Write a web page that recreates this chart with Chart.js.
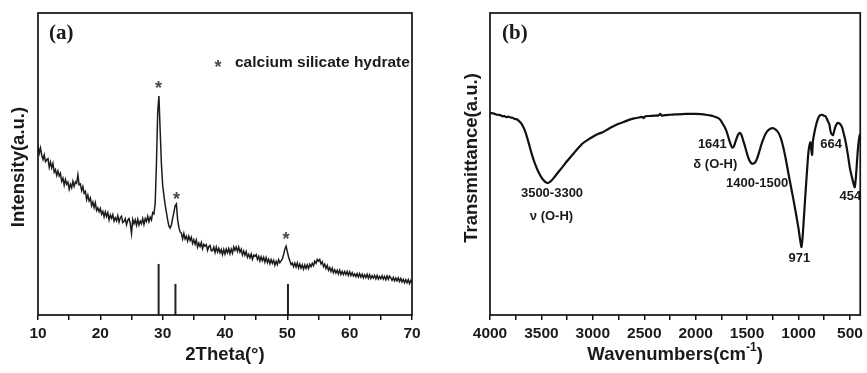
<!DOCTYPE html>
<html>
<head>
<meta charset="utf-8">
<script src="https://cdn.jsdelivr.net/npm/chart.js@4/dist/chart.umd.min.js"></script>
<style>
  html, body { margin: 0; padding: 0; background: #fff; }
  #wrap { position: relative; width: 867px; height: 373px; }
  #wrap > div { position: absolute; top: 0; height: 373px; }
  #boxA { left: 0; width: 430px; }
  #boxB { left: 430px; width: 437px; }
</style>
</head>
<body>
<div id="wrap">
  <div id="boxA"><canvas id="xrd"></canvas></div>
  <div id="boxB"><canvas id="ftir"></canvas></div>
</div>
<script>
// ---- (a) XRD pattern, sampled every 0.2 deg from 10 to 70 ----
const xrdStart = 10;
const xrdStep = 0.2;
const xrdIntensity = [
  56.1, 53.5, 55.3, 52.9, 51.5,  53.0, 50.8, 51.4, 51.8, 48.9,
  50.6, 48.7, 50.2, 47.3, 48.1,  46.2, 47.7, 46.0, 46.9, 44.3,
  45.3, 43.0, 44.9, 43.3, 44.0,  41.6, 43.3, 42.1, 44.3, 42.6,
  44.1, 43.6, 46.4, 43.1, 43.4,  41.2, 42.5, 40.3, 40.9, 38.2,
  39.7, 37.8, 38.7, 36.2, 37.4,  35.6, 37.2, 34.6, 35.5, 34.2,
  35.3, 33.4, 34.3, 32.5, 34.2,  32.6, 33.9, 31.5, 33.1, 32.0,
  33.2, 31.1, 32.2, 31.2, 32.9,  30.8, 32.2, 32.7, 30.6, 31.0,
  31.9, 29.9, 31.4, 31.9, 30.3,  27.0, 31.6, 30.2, 31.5, 29.7,
  31.7, 29.8, 31.1, 30.2, 31.9,  30.0, 31.9, 31.0, 32.7, 30.9,
  32.4, 31.5, 33.9, 33.5, 37.0,  50.0, 67.0, 72.5, 61.0, 50.0,
  43.0, 39.5, 36.5, 34.0, 31.5,  29.5, 28.8, 29.8, 32.0, 34.0,
  36.2, 36.8, 31.5, 29.0, 27.5,  27.1, 25.2, 27.0, 25.2, 26.1,
  24.5, 26.1, 24.7, 25.7, 23.7,  24.9, 23.4, 24.8, 22.5, 23.8,
  22.7, 24.0, 22.0, 23.4, 22.8,  23.3, 21.4, 22.6, 23.0, 21.3,
  21.3, 22.5, 20.7, 22.5, 20.9,  22.1, 20.6, 21.7, 20.0, 21.7,
  20.2, 21.8, 20.6, 22.0, 20.3,  21.8, 20.5, 22.5, 21.4, 22.5,
  21.1, 22.5, 20.8, 21.8, 19.9,  21.2, 19.8, 21.0, 19.1, 20.1,
  18.9, 20.2, 18.5, 19.8, 19.4,  20.0, 18.4, 19.4, 17.9, 19.3,
  18.0, 19.1, 17.5, 19.0, 17.4,  18.5, 17.0, 18.3, 17.1, 18.1,
  16.5, 17.8, 16.7, 18.3, 17.3,  17.9, 18.6, 20.0, 21.8, 22.8,
  21.0, 19.2, 18.0, 16.7, 17.2,  16.0, 17.2, 15.9, 17.2, 15.6,
  16.9, 15.5, 16.6, 15.2, 16.6,  15.4, 16.6, 15.4, 16.8, 16.0,
  17.1, 16.3, 17.8, 17.1, 18.4,  17.8, 18.4, 16.9, 17.6, 16.0,
  16.8, 15.4, 16.4, 14.8, 15.7,  14.4, 15.5, 14.0, 15.0, 13.9,
  14.8, 13.6, 14.8, 13.4, 14.4,  13.4, 14.4, 13.4, 14.4, 13.1,
  14.3, 13.1, 14.0, 12.9, 13.6,  12.7, 13.7, 12.6, 13.7, 12.6,
  13.5, 12.3, 13.3, 12.4, 13.5,  12.2, 13.3, 12.1, 13.0, 12.2,
  13.1, 12.0, 13.1, 11.9, 12.8,  12.0, 13.0, 11.9, 12.8, 11.7,
  12.9, 11.8, 12.9, 12.3, 11.5,  12.4, 11.3, 12.2, 11.3, 12.3,
  11.1, 12.1, 11.0, 11.8, 10.7,  11.7, 10.7, 11.7, 10.4, 11.4,
  10.6
];
// reference pattern sticks
const stickAngles = [29.35, 32.05, 50.1];
const stickHeights = [16.9, 10.3, 10.3];
// asterisks over the C-S-H peaks
const cshAngles = [29.35, 32.2, 49.8];
const cshMarkLevel = [76.5, 39.7, 26.5];
const xrdTicks = [10, 15, 20, 25, 30, 35, 40, 45, 50, 55, 60, 65, 70];

// ---- (b) FTIR spectrum ----
const wavenumbers = [
  4000, 3960, 3930, 3900, 3880, 3860, 3840, 3820, 3800, 3780, 3760, 3740, 3720, 3700,
  3680, 3660, 3640, 3620, 3600, 3580, 3560, 3540, 3520, 3500, 3480, 3460, 3440, 3420,
  3400, 3380, 3350, 3300, 3250, 3200, 3150, 3100, 3050, 3000, 2950, 2900, 2850, 2800,
  2750, 2700, 2650, 2600, 2550, 2520, 2505, 2490, 2450, 2400, 2360, 2345, 2330, 2300,
  2250, 2200, 2100, 2000, 1950, 1900, 1850, 1800, 1780, 1760, 1740, 1720, 1700, 1680,
  1660, 1645, 1630, 1615, 1600, 1585, 1570, 1555, 1540, 1520, 1500, 1480, 1460, 1440,
  1420, 1400, 1380, 1360, 1340, 1320, 1300, 1275, 1250, 1225, 1200, 1175, 1150, 1125,
  1100, 1075, 1050, 1025, 1000, 985, 971, 960, 950, 935, 920, 905, 895, 885,
  875, 868, 860, 845, 830, 815, 800, 785, 770, 755, 740, 725, 715, 700,
  690, 680, 664, 650, 635, 620, 605, 590, 575, 560, 540, 520, 500, 480,
  465, 454, 445, 435, 425, 415, 405, 400
];
const transmittance = [
  66.9, 66.7, 66.3, 66.2, 65.8, 65.9, 65.5, 65.7, 65.4, 65.3, 64.9, 64.8, 64.3, 63.6,
  62.5, 61.0, 58.9, 56.5, 54.0, 51.8, 49.9, 48.2, 46.8, 45.6, 44.7, 44.0, 43.7, 44.0,
  44.6, 45.4, 46.7, 48.8, 51.0, 53.0, 55.0, 56.8, 58.0, 59.0, 59.9, 60.6, 61.6, 62.5,
  63.3, 63.9, 64.6, 65.1, 65.4, 65.6, 65.2, 65.8, 65.9, 66.0, 66.1, 66.6, 66.0, 66.2,
  66.3, 66.4, 66.6, 66.6, 66.5, 66.3, 66.0, 65.5, 65.2, 64.6, 63.5, 62.3, 60.8, 58.6,
  56.5, 55.4, 55.7, 57.2, 58.7, 59.9, 60.3, 59.6, 58.0, 55.8, 53.3, 51.3, 50.3, 50.1,
  50.6, 52.1, 54.3, 56.6, 58.5, 60.0, 61.0, 61.7, 61.9, 61.5, 60.6, 58.8, 55.8, 51.8,
  47.2, 42.7, 38.3, 33.6, 28.6, 25.0, 22.5, 26.0, 31.0, 39.0, 46.5, 53.5, 56.0, 57.2,
  54.5, 53.0, 57.5, 60.5, 62.8, 64.6, 65.8, 66.2, 66.3, 66.0, 65.9, 65.0, 64.2, 63.1,
  61.0, 60.0, 59.6, 61.4, 62.9, 63.6, 63.5, 63.0, 62.0, 60.0, 57.0, 53.0, 48.5, 45.5,
  43.5, 42.3, 44.5, 49.0, 54.0, 57.5, 59.5, 60.0
];
const ftirTicks = [4000, 3750, 3500, 3250, 3000, 2750, 2500, 2250, 2000, 1750, 1500, 1250, 1000, 750, 500];
// band labels: text, wavenumber, level
const bandText = ['3500-3300', '\u03bd (O-H)', '1641', '\u03b4 (O-H)', '1400-1500', '971', '664', '454'];
const bandPos = [3397, 3402, 1838, 1809, 1403, 991, 684, 496];
const bandLevel = [40.4, 32.5, 56.6, 49.7, 43.7, 18.9, 56.6, 39.1];

const SANS = '"Liberation Sans", Arial, sans-serif';
const SERIF = '"Liberation Serif", "Times New Roman", serif';

function tickAxis(ticks, min, max, reverse, labelEvery, height) {
  return {
    type: 'linear', min: min, max: max, reverse: reverse,
    afterBuildTicks: s => { s.ticks = ticks.map(v => ({ value: v })); },
    afterFit: s => { s.height = height; },
    grid: { display: true, drawOnChartArea: false, drawTicks: true, tickLength: 5, color: '#111', lineWidth: 1.5 },
    border: { display: false },
    ticks: {
      autoSkip: false, maxRotation: 0, padding: 4, color: '#1a1a1a',
      font: { family: SANS, size: 15.5, weight: 'bold' },
      callback: v => (v % labelEvery === 0 ? String(v) : '')
    }
  };
}

function blankY(width) {
  return {
    type: 'linear', min: 0, max: 100,
    afterFit: s => { s.width = width; },
    grid: { display: false }, border: { display: false },
    ticks: { display: false }
  };
}

function drawFrame(ctx, area) {
  ctx.save();
  ctx.strokeStyle = '#111';
  ctx.lineWidth = 1.7;
  ctx.strokeRect(area.left, area.top, area.right - area.left, area.bottom - area.top);
  ctx.restore();
}

function drawYTitle(ctx, text, x, y) {
  ctx.save();
  ctx.translate(x, y);
  ctx.rotate(-Math.PI / 2);
  ctx.font = 'bold 18.5px ' + SANS;
  ctx.fillStyle = '#1a1a1a';
  ctx.textAlign = 'center';
  ctx.textBaseline = 'middle';
  ctx.fillText(text, 0, 0);
  ctx.restore();
}

function drawStar(ctx, x, y) {
  const size = 18;
  ctx.font = 'bold ' + size + 'px ' + SANS;
  ctx.textAlign = 'center';
  ctx.textBaseline = 'alphabetic';
  ctx.fillText('*', x, y + 0.57 * size);
}

const xrdDecor = {
  id: 'xrdDecor',
  afterDraw(chart) {
    const { ctx, chartArea: a, scales } = chart;
    drawFrame(ctx, a);
    ctx.save();
    ctx.fillStyle = '#4a4a4a';
    cshAngles.forEach((t, i) => drawStar(ctx, scales.x.getPixelForValue(t), scales.y.getPixelForValue(cshMarkLevel[i])));
    drawStar(ctx, a.left + 180, a.top + 50);
    ctx.fillStyle = '#1a1a1a';
    ctx.font = 'bold 15.5px ' + SANS;
    ctx.textAlign = 'left';
    ctx.textBaseline = 'middle';
    ctx.fillText('calcium silicate hydrate', a.left + 197, a.top + 50);
    ctx.font = 'bold 21px ' + SERIF;
    ctx.fillText('(a)', a.left + 11, a.top + 21);
    ctx.font = 'bold 18.5px ' + SANS;
    ctx.textAlign = 'center';
    ctx.fillText('2Theta(\u00b0)', (a.left + a.right) / 2, 355);
    ctx.restore();
    drawYTitle(ctx, 'Intensity(a.u.)', 19, (a.top + a.bottom) / 2 + 3);
  }
};

const ftirDecor = {
  id: 'ftirDecor',
  afterDraw(chart) {
    const { ctx, chartArea: a, scales } = chart;
    drawFrame(ctx, a);
    ctx.save();
    ctx.fillStyle = '#1a1a1a';
    ctx.font = 'bold 13px ' + SANS;
    ctx.textAlign = 'center';
    ctx.textBaseline = 'middle';
    bandText.forEach((t, i) => {
      ctx.fillText(t, scales.x.getPixelForValue(bandPos[i]), scales.y.getPixelForValue(bandLevel[i]));
    });
    ctx.textAlign = 'left';
    ctx.font = 'bold 21px ' + SERIF;
    ctx.fillText('(b)', a.left + 12, a.top + 21);
    // x title with superscript -1
    const main = 'Wavenumbers(cm', sup = '-1', tail = ')';
    ctx.font = 'bold 18.5px ' + SANS;
    const w1 = ctx.measureText(main).width, w3 = ctx.measureText(tail).width;
    ctx.font = 'bold 12px ' + SANS;
    const w2 = ctx.measureText(sup).width;
    let x = (a.left + a.right) / 2 - (w1 + w2 + w3) / 2;
    ctx.font = 'bold 18.5px ' + SANS;
    ctx.fillText(main, x, 355);
    ctx.font = 'bold 12px ' + SANS;
    ctx.fillText(sup, x + w1, 348);
    ctx.font = 'bold 18.5px ' + SANS;
    ctx.fillText(tail, x + w1 + w2, 355);
    ctx.restore();
    drawYTitle(ctx, 'Transmittance(a.u.)', 42, (a.top + a.bottom) / 2 - 6);
  }
};

const common = {
  responsive: true,
  maintainAspectRatio: false,
  animation: false,
  devicePixelRatio: 1,
  plugins: { legend: { display: false }, tooltip: { enabled: false } },
  elements: { point: { radius: 0 } }
};

new Chart(document.getElementById('xrd'), {
  type: 'scatter',
  data: {
    datasets: [
      {
        data: xrdIntensity.map((v, i) => ({ x: +(xrdStart + i * xrdStep).toFixed(1), y: v })),
        showLine: true, borderColor: '#1c1c1c', borderWidth: 1.5, tension: 0
      }
    ].concat(stickAngles.map((t, i) => ({
      data: [{ x: t, y: 0 }, { x: t, y: stickHeights[i] }],
      showLine: true, borderColor: '#222', borderWidth: 2
    })))
  },
  options: Object.assign({}, common, {
    layout: { padding: { top: 13, right: 18, left: 0, bottom: 0 } },
    scales: { x: tickAxis(xrdTicks, 10, 70, false, 10, 58), y: blankY(38) }
  }),
  plugins: [xrdDecor]
});

new Chart(document.getElementById('ftir'), {
  type: 'scatter',
  data: {
    datasets: [{
      data: wavenumbers.map((w, i) => ({ x: w, y: transmittance[i] })),
      showLine: true, borderColor: '#111', borderWidth: 2.2, tension: 0.2
    }]
  },
  options: Object.assign({}, common, {
    layout: { padding: { top: 13, right: 4, left: 0, bottom: 0 } },
    scales: { x: tickAxis(ftirTicks, 400, 4000, true, 500, 58), y: blankY(60) }
  }),
  plugins: [ftirDecor]
});
</script>
</body>
</html>
